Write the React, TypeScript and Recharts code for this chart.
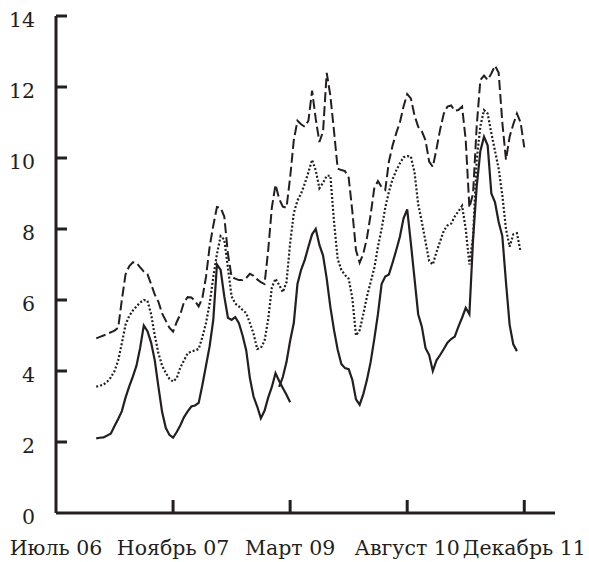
import React from 'react';
import { LineChart, Line, XAxis, YAxis } from 'recharts';

const INK = '#231f20';
const FONT = "'DejaVu Serif', serif";
const _ = null;

// x positions in months counted from July 2006, sampled every half month
const months = [
  5.5, 6, 6.5, 7, 7.5, 8, 8.5, 9, 9.5, 10,
  10.5, 11, 11.5, 12, 12.5, 13, 13.5, 14, 14.5, 15,
  15.5, 16, 16.5, 17, 17.5, 18, 18.5, 19, 19.5, 20,
  20.5, 21, 21.5, 22, 22.5, 23, 23.5, 24, 24.5, 25,
  25.5, 26, 26.5, 27, 27.5, 28, 28.5, 29, 29.5, 30,
  30.5, 31, 31.5, 32, 32.5, 33, 33.5, 34, 34.5, 35,
  35.5, 36, 36.5, 37, 37.5, 38, 38.5, 39, 39.5, 40,
  40.5, 41, 41.5, 42, 42.5, 43, 43.5, 44, 44.5, 45,
  45.5, 46, 46.5, 47, 47.5, 48, 48.5, 49, 49.5, 50,
  50.5, 51, 51.5, 52, 52.5, 53, 53.5, 54, 54.5, 55,
  55.5, 56, 56.5, 57, 57.5, 58, 58.5, 59, 59.5, 60,
  60.5, 61, 61.5, 62, 62.5, 63, 63.5, 64,
];

// dashed line (top)
const upper = [
  4.92, 4.96, 5.0, 5.05, 5.09, 5.14, 5.22, 6.0, 6.72, 6.95,
  7.06, 7.05, 6.92, 6.8, 6.73, 6.45, 6.15, 5.95, 5.62, 5.42,
  5.22, 5.11, 5.38, 5.6, 5.95, 6.08, 6.07, 5.97, 5.82, 6.05,
  6.65, 7.5, 8.1, 8.62, 8.6, 8.35, 7.3, 6.65, 6.6, 6.56,
  6.56, 6.62, 6.74, 6.68, 6.58, 6.5, 6.45, 7.4, 8.6, 9.25,
  8.85, 8.63, 8.6, 9.45, 10.5, 11.05, 10.95, 10.88, 11.05, 11.9,
  11.1, 10.45, 10.75, 12.4, 11.75, 10.75, 9.7, 9.66, 9.63, 9.45,
  8.5, 7.4, 7.05, 7.3, 7.75, 8.4, 9.15, 9.35, 9.18, 9.1,
  9.9, 10.35, 10.7, 11.0, 11.45, 11.8, 11.68, 11.2, 10.88, 10.75,
  10.5, 9.9, 9.75, 10.25, 10.8, 11.25, 11.45, 11.48, 11.33, 11.35,
  11.45, 10.5, 8.6, 9.0, 10.9, 12.2, 12.32, 12.2, 12.38, 12.6,
  12.4, 11.0, 9.95, 10.6, 10.95, 11.25, 11.0, 10.3,
];

// dotted line (middle)
const middle = [
  3.56, 3.58, 3.62, 3.7, 3.82, 4.0, 4.3, 4.78, 5.3, 5.55,
  5.7, 5.82, 5.93, 6.0, 5.98, 5.6, 5.0, 4.5, 4.15, 3.95,
  3.78, 3.7, 3.8, 4.1, 4.3, 4.5, 4.55, 4.58, 4.62, 4.95,
  5.35, 5.9, 6.65, 7.3, 7.8, 7.7, 6.9, 6.1, 5.9, 5.82,
  5.72, 5.63, 5.35, 5.05, 4.62, 4.65, 4.85, 5.45, 6.35, 6.6,
  6.42, 6.22, 6.5, 7.6, 8.45, 8.8, 9.0, 9.28, 9.6, 9.95,
  9.65, 9.15, 9.3, 9.5, 9.5, 8.2, 7.15, 6.85, 6.7, 6.6,
  6.05, 5.0, 5.15, 5.6, 6.1, 6.5, 6.9, 7.5, 8.0, 8.6,
  9.05, 9.4, 9.65, 9.85, 10.02, 10.05, 10.04, 9.6, 8.7, 8.2,
  7.65, 7.1, 7.0, 7.35, 7.65, 7.95, 8.1, 8.15, 8.35, 8.5,
  8.65, 8.0, 7.0, 7.8, 9.95, 10.9, 11.35, 11.25, 10.7, 10.2,
  9.7, 8.95, 8.0, 7.5, 7.85, 7.88, 7.36, _,
];

// solid line (bottom), first piece up to early 2009
const lowerA = [
  2.1, 2.12, 2.13, 2.18, 2.24, 2.45, 2.65, 2.87, 3.25, 3.56,
  3.84, 4.15, 4.65, 5.28, 5.12, 4.8, 4.3, 3.55, 2.85, 2.4,
  2.2, 2.12, 2.28, 2.47, 2.7, 2.86, 3.0, 3.03, 3.1, 3.6,
  4.15, 4.7, 5.45, 7.0, 6.85, 6.1, 5.5, 5.44, 5.52, 5.35,
  5.0, 4.58, 3.8, 3.28, 3.0, 2.67, 2.88, 3.25, 3.55, 3.94,
  3.72, 3.52, 3.33, 3.12, _, _, _, _, _, _,
  _, _, _, _, _, _, _, _, _, _,
  _, _, _, _, _, _, _, _, _, _,
  _, _, _, _, _, _, _, _, _, _,
  _, _, _, _, _, _, _, _, _, _,
  _, _, _, _, _, _, _, _, _, _,
  _, _, _, _, _, _, _, _,
];

// solid line (bottom), second piece from early 2009
const lowerB = [
  _, _, _, _, _, _, _, _, _, _,
  _, _, _, _, _, _, _, _, _, _,
  _, _, _, _, _, _, _, _, _, _,
  _, _, _, _, _, _, _, _, _, _,
  _, _, _, _, _, _, _, _, _, _,
  3.55, 3.83, 4.25, 4.85, 5.35, 6.45, 6.85, 7.13, 7.5, 7.85,
  8.0, 7.55, 7.25, 6.6, 5.8, 5.15, 4.6, 4.2, 4.08, 4.05,
  3.75, 3.2, 3.05, 3.35, 3.75, 4.25, 4.9, 5.6, 6.45, 6.66,
  6.72, 7.05, 7.4, 7.78, 8.3, 8.55, 7.6, 6.6, 5.6, 5.25,
  4.65, 4.45, 4.0, 4.3, 4.45, 4.62, 4.8, 4.9, 4.97, 5.25,
  5.5, 5.78, 5.6, 7.7, 9.2, 10.2, 10.6, 10.35, 9.0, 8.75,
  8.2, 7.8, 6.5, 5.3, 4.75, 4.56, _, _,
];

const xTicks = [0, 16, 32, 48, 64];
const xLabels = ['Июль 06', 'Ноябрь 07', 'Март 09', 'Август 10', 'Декабрь 11'];
const yTicks = [0, 2, 4, 6, 8, 10, 12, 14];

const data = months.map((month, i) => ({
  month,
  upper: upper[i],
  middle: middle[i],
  lowerA: lowerA[i],
  lowerB: lowerB[i],
}));

// tickSize and tickMargin are 0, so x / y here sit on the axis line
const YTick = ({ x, y, payload, index }: any) => (
  <g>
    {index > 0 && <line x1={x} y1={y} x2={x + 11} y2={y} stroke={INK} strokeWidth={3} />}
    <text x={x - 21} y={y + 11} textAnchor="end" fontFamily={FONT} fontSize={20.5} fill={INK}>
      {payload.value}
    </text>
  </g>
);

const XTick = ({ x, y, payload, index }: any) => (
  <g>
    {index > 0 && <line x1={x} y1={y} x2={x} y2={y - 13} stroke={INK} strokeWidth={3} />}
    <text x={x} y={y + 42} textAnchor="middle" fontFamily={FONT} fontSize={20.5} fill={INK}>
      {xLabels[xTicks.indexOf(payload.value)]}
    </text>
  </g>
);

const App = () => {
  return (
    <div style={{ width: 589, height: 562 }}>
      <style>{'body { margin: 0; }'}</style>
      <LineChart
        width={589}
        height={562}
        data={data}
        margin={{ top: 16, right: 34, left: 0, bottom: 0 }}>
        <XAxis
          dataKey="month"
          type="number"
          domain={[0, 68.2]}
          ticks={xTicks}
          interval={0}
          height={49}
          tickSize={0}
          tickMargin={0}
          tickLine={false}
          axisLine={{ stroke: INK, strokeWidth: 3 }}
          tick={<XTick />}
        />
        <YAxis
          type="number"
          domain={[0, 14]}
          ticks={yTicks}
          interval={0}
          width={56}
          tickSize={0}
          tickMargin={0}
          tickLine={false}
          axisLine={{ stroke: INK, strokeWidth: 3 }}
          tick={<YTick />}
        />
        <Line type="linear" dataKey="upper" stroke={INK} strokeWidth={2} strokeDasharray="10 4" dot={false} activeDot={false} isAnimationActive={false} />
        <Line type="linear" dataKey="middle" stroke={INK} strokeWidth={2.2} strokeDasharray="2 2" dot={false} activeDot={false} isAnimationActive={false} />
        <Line type="linear" dataKey="lowerA" stroke={INK} strokeWidth={2.2} dot={false} activeDot={false} isAnimationActive={false} />
        <Line type="linear" dataKey="lowerB" stroke={INK} strokeWidth={2.2} dot={false} activeDot={false} isAnimationActive={false} />
      </LineChart>
    </div>
  );
};

export default App;
